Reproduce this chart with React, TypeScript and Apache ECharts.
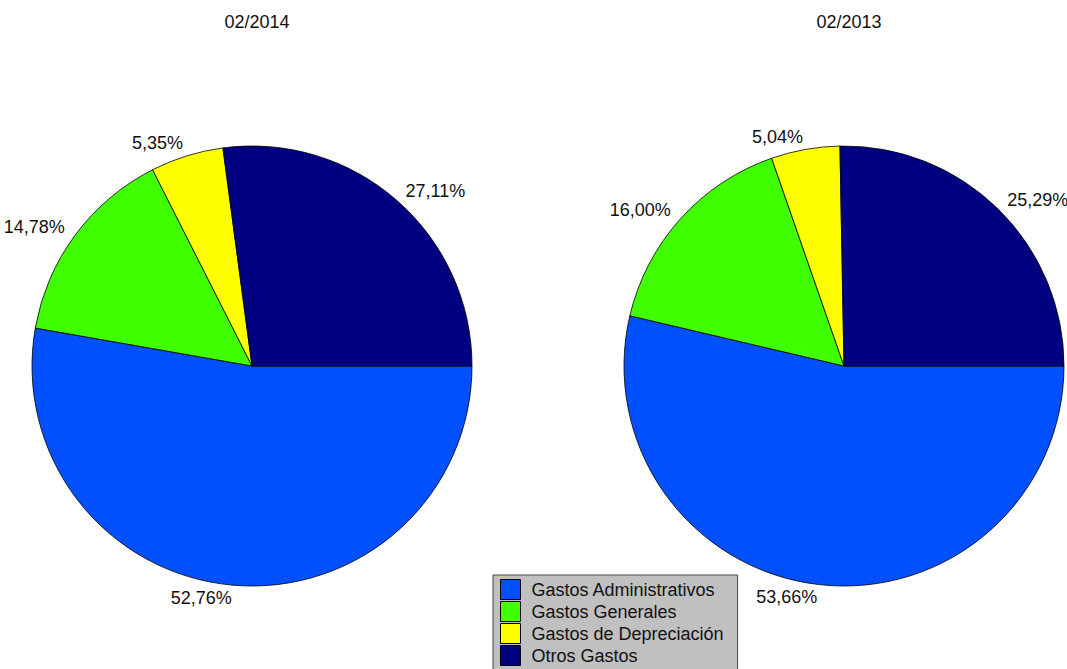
import React, { useEffect, useRef } from 'react';
import * as echarts from 'echarts';

const categories = ['Gastos Administrativos', 'Gastos Generales', 'Gastos de Depreciación', 'Otros Gastos'];
const values2014 = [52.76, 14.78, 5.35, 27.11];
const values2013 = [53.66, 16.0, 5.04, 25.29];
const periods = ['02/2014', '02/2013'];
const colors = ['#0050FF', '#40FF00', '#FFFF00', '#000080'];

const FONT = '"Liberation Sans", Arial, sans-serif';

function makeSeries(name: string, values: number[], cx: number) {
  return {
    type: 'pie',
    name,
    center: [cx, 366],
    radius: [0, 220],
    startAngle: 0,
    clockwise: true,
    avoidLabelOverlap: false,
    silent: true,
    data: categories.map((c, i) => ({ name: c, value: values[i], itemStyle: { color: colors[i] } })),
    itemStyle: { borderColor: '#000', borderWidth: 0.8 },
    label: {
      show: true,
      position: 'outside',
      fontSize: 18,
      fontFamily: FONT,
      color: '#111',
      distanceToLabelLine: 0,
      formatter: (p: any) => p.value.toFixed(2).replace('.', ',') + '%',
    },
    labelLine: { show: false, length: 13, length2: 0 },
    emphasis: { disabled: true },
  };
}

export default function App() {
  const ref = useRef<HTMLDivElement>(null);
  useEffect(() => {
    if (!ref.current) return;
    const chart = echarts.init(ref.current, null, { renderer: 'svg' });
    chart.setOption({
      animation: false,
      backgroundColor: '#fff',
      title: [
        { text: periods[0], left: 252, top: 8, textAlign: 'center', textStyle: { fontSize: 18, fontWeight: 'normal', color: '#111', fontFamily: FONT } },
        { text: periods[1], left: 844, top: 8, textAlign: 'center', textStyle: { fontSize: 18, fontWeight: 'normal', color: '#111', fontFamily: FONT } },
      ],
      legend: {
        orient: 'vertical',
        left: 493,
        top: 575,
        height: 200,
        data: categories,
        selectedMode: false,
        backgroundColor: '#C0C0C0',
        borderColor: '#444',
        borderWidth: 1,
        padding: [4, 14, 4, 7],
        itemWidth: 20,
        itemHeight: 20,
        itemGap: 1,
        icon: 'rect',
        itemStyle: { borderColor: '#000', borderWidth: 1 },
        textStyle: { fontSize: 18, lineHeight: 20, color: '#111', fontFamily: FONT, padding: [0, 0, 0, 6] },
      },
      series: [makeSeries(periods[0], values2014, 252), makeSeries(periods[1], values2013, 844)],
    });
    return () => chart.dispose();
  }, []);
  return <div ref={ref} style={{ position: 'fixed', left: 0, top: 0, width: 1067, height: 669 }} />;
}
